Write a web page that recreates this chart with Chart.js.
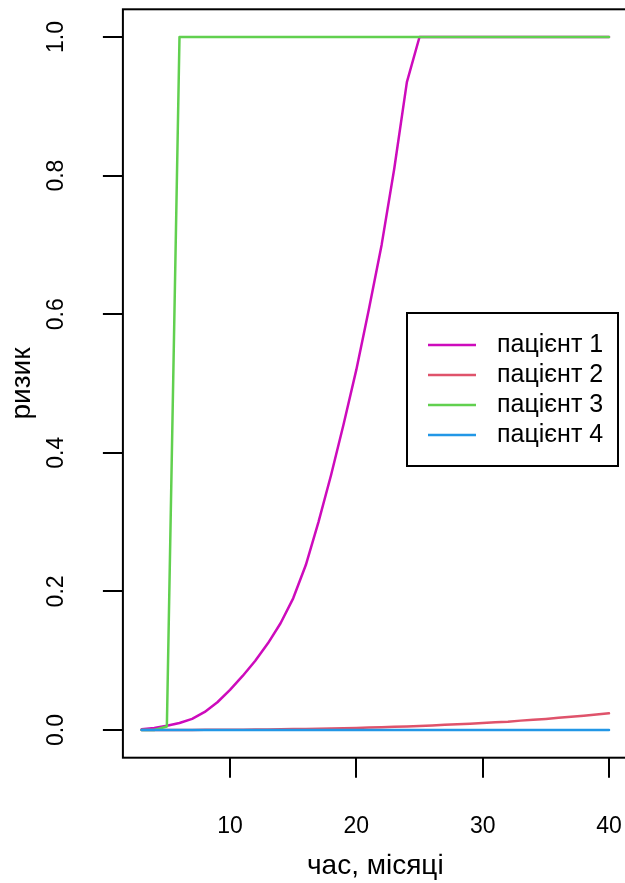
<!DOCTYPE html>
<html>
<head>
<meta charset="utf-8">
<script src="https://cdn.jsdelivr.net/npm/chart.js@4.4.1/dist/chart.umd.min.js"></script>
<style>
html, body { margin: 0; padding: 0; overflow: hidden; background: #fff; }
canvas { display: block; }
</style>
</head>
<body>
<canvas id="chart" width="630" height="883" style="width:630px;height:883px"></canvas>
<script>
// months (x) and risk curves per patient
const months = [3, 4, 5, 6, 7, 8, 9, 10, 11, 12, 13, 14, 15, 16, 17, 18, 19, 20, 21,
    22, 23, 24, 25, 26, 27, 28, 29, 30, 31, 32, 33, 34, 35, 36, 37, 38, 39, 40];
const patient1 = [0.001, 0.003, 0.006, 0.010, 0.016, 0.026, 0.040, 0.058, 0.078, 0.100,
    0.125, 0.154, 0.190, 0.238, 0.300, 0.368, 0.442, 0.520, 0.608, 0.700, 0.810, 0.935,
    1, 1, 1, 1, 1, 1, 1, 1, 1, 1, 1, 1, 1, 1, 1, 1];
const patient2 = [0.00001, 0.00002, 0.00005, 0.00008, 0.00013, 0.0002, 0.00027, 0.00038,
    0.0005, 0.00065, 0.0008, 0.001, 0.0013, 0.0015, 0.0018, 0.0022, 0.0026, 0.003, 0.0035,
    0.004, 0.0046, 0.0052, 0.0059, 0.0066, 0.0074, 0.0082, 0.0091, 0.010, 0.011, 0.012,
    0.0135, 0.0147, 0.016, 0.0175, 0.019, 0.0205, 0.0222, 0.024];
const patient3 = [0, 0, 0.005, 1, 1, 1, 1, 1, 1, 1, 1, 1, 1, 1, 1, 1, 1, 1, 1, 1, 1, 1,
    1, 1, 1, 1, 1, 1, 1, 1, 1, 1, 1, 1, 1, 1, 1, 1];
const patient4 = [0, 0, 0, 0, 0, 0, 0, 0, 0, 0, 0, 0, 0, 0, 0, 0, 0, 0, 0, 0, 0, 0,
    0, 0, 0, 0, 0, 0, 0, 0, 0, 0, 0, 0, 0, 0, 0, 0];
const seriesNames = ['пацієнт 1', 'пацієнт 2', 'пацієнт 3', 'пацієнт 4'];
const seriesColors = ['#CD0BBC', '#DF536B', '#61D04F', '#2297E6'];
const xTicks = [10, 20, 30, 40];
const yTicks = [0, 0.2, 0.4, 0.6, 0.8, 1.0];
const xTitle = 'час, місяці';
const yTitle = 'ризик';

const FONT = '"Liberation Sans", Arial, sans-serif';

function toPoints(arr) {
    return arr.map((v, i) => ({ x: months[i], y: v }));
}

const allSeries = [patient1, patient2, patient3, patient4];
const datasets = allSeries.map((s, i) => ({
    label: seriesNames[i],
    data: toPoints(s),
    borderColor: seriesColors[i],
    borderWidth: 2.5,
    pointRadius: 0,
    tension: 0,
    fill: false,
    borderCapStyle: 'round',
    borderJoinStyle: 'round',
    order: allSeries.length - i   // later series drawn on top, like R
}));

// R-style box, tick labels, titles and legend
const rPlot = {
    id: 'rPlot',
    afterDraw(chart) {
        const ctx = chart.ctx;
        const a = chart.chartArea;
        const xs = chart.scales.x;
        const ys = chart.scales.y;
        ctx.save();
        ctx.strokeStyle = '#000';
        ctx.lineWidth = 2;
        ctx.strokeRect(a.left, a.top, a.right - a.left, a.bottom - a.top);

        ctx.fillStyle = '#000';
        ctx.font = '23px ' + FONT;
        ctx.textAlign = 'center';
        ctx.textBaseline = 'middle';
        xTicks.forEach(v => {
            ctx.fillText(String(v), xs.getPixelForValue(v), 827);
        });
        yTicks.forEach(v => {
            ctx.save();
            ctx.translate(57, ys.getPixelForValue(v));
            ctx.rotate(-Math.PI / 2);
            ctx.fillText(v.toFixed(1), 0, 0);
            ctx.restore();
        });

        ctx.font = '28px ' + FONT;
        ctx.fillText(xTitle, (a.left + a.right) / 2, 866);
        ctx.save();
        ctx.translate(22, (a.top + a.bottom) / 2);
        ctx.rotate(-Math.PI / 2);
        ctx.fillText(yTitle, 0, 0);
        ctx.restore();

        // legend
        ctx.lineWidth = 2;
        ctx.strokeStyle = '#000';
        ctx.strokeRect(407, 313, 211, 153);
        ctx.font = '25px ' + FONT;
        ctx.textAlign = 'left';
        chart.data.datasets.forEach((ds, i) => {
            const y = 345 + i * 30;
            ctx.strokeStyle = ds.borderColor;
            ctx.lineWidth = 2.5;
            ctx.beginPath();
            ctx.moveTo(428, y);
            ctx.lineTo(476, y);
            ctx.stroke();
            ctx.fillStyle = '#000';
            ctx.fillText(ds.label, 497, y);
        });
        ctx.restore();
    }
};

const axisCommon = {
    type: 'linear',
    grid: { display: true, drawOnChartArea: false, drawTicks: true, tickLength: 20, color: '#000', lineWidth: 2 },
    border: { display: false },
    ticks: { display: false }
};

new Chart(document.getElementById('chart').getContext('2d'), {
    type: 'line',
    data: { datasets: datasets },
    options: {
        responsive: false,
        animation: false,
        layout: { padding: { top: 9.3, right: 2.3, left: 0, bottom: 0 } },
        plugins: { legend: { display: false }, tooltip: { enabled: false } },
        scales: {
            x: Object.assign({}, axisCommon, {
                position: 'bottom',
                min: 1.52, max: 41.48,
                afterBuildTicks: s => { s.ticks = xTicks.map(v => ({ value: v })); },
                afterFit: s => { s.height = 125.3; }
            }),
            y: Object.assign({}, axisCommon, {
                position: 'left',
                min: -0.04, max: 1.04,
                afterBuildTicks: s => { s.ticks = yTicks.map(v => ({ value: v })); },
                afterFit: s => { s.width = 122.9; }
            })
        }
    },
    plugins: [rPlot]
});
</script>
</body>
</html>
